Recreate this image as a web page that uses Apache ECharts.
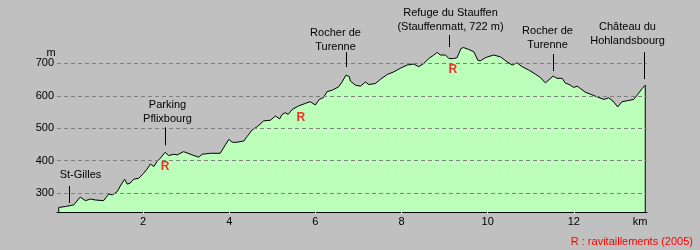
<!DOCTYPE html>
<html>
<head>
<meta charset="utf-8">
<script src="https://cdn.jsdelivr.net/npm/echarts@6/dist/echarts.min.js"></script>
<style>
html,body{margin:0;padding:0;background:#c0c0c0;}
#chart{width:700px;height:250px;}
</style>
</head>
<body>
<div id="chart"></div>
<script>
// ---- data ----
const distKm = [0.04,0.20,0.39,0.54,0.66,0.78,0.89,1.08,1.20,1.29,1.40,1.47,1.57,1.63,1.70,1.78,1.90,2.01,2.09,2.17,2.25,2.32,2.40,2.51,2.59,2.71,2.79,2.94,3.14,3.29,3.37,3.56,3.79,3.91,3.99,4.07,4.18,4.34,4.41,4.48,4.53,4.65,4.80,4.96,5.07,5.11,5.17,5.23,5.30,5.37,5.46,5.61,5.77,5.88,6.00,6.09,6.19,6.27,6.40,6.54,6.62,6.71,6.79,6.81,6.93,7.05,7.16,7.24,7.39,7.51,7.67,7.82,7.97,8.13,8.28,8.40,8.52,8.63,8.75,8.83,8.90,9.02,9.10,9.21,9.29,9.38,9.44,9.56,9.68,9.77,9.83,9.95,10.14,10.30,10.45,10.57,10.68,10.80,10.95,11.11,11.23,11.34,11.52,11.61,11.73,11.80,11.92,12.00,12.08,12.15,12.27,12.39,12.54,12.70,12.81,12.91,13.02,13.12,13.24,13.39,13.47,13.59,13.66];
const elevM  = [256,259,264,288,277,282,279,277,297,295,305,322,343,328,331,343,346,361,374,390,382,397,408,426,416,420,418,428,418,411,420,423,423,449,466,457,457,461,474,486,495,505,523,525,538,544,529,543,548,543,558,569,577,582,572,589,595,613,618,628,643,664,659,646,633,630,643,635,638,651,666,674,685,695,698,690,700,715,726,734,726,726,715,715,718,746,749,743,736,710,708,718,726,720,705,695,702,690,680,667,656,640,661,654,654,640,633,626,630,623,611,605,597,589,594,584,566,582,585,589,602,623,633];
const yTicks = [300,400,500,600,700];
const xTickInterval = 2;
const placeNames = ['St-Gilles','Parking\nPflixbourg','Rocher de\nTurenne','Refuge du Stauffen\n(Stauffenmatt, 722 m)','Rocher de\nTurenne','Château du\nHohlandsbourg'];
const placeKm   = [0.28, 2.50, 6.71, 9.10, 11.51, 13.62];
const placeElev = [262, 426, 664, 715, 661, 633];
const supplyKm   = [2.51, 5.66, 9.19];
const supplyElev = [381, 534, 682];
const yMin = 242, yMax = 800, xMin = 0, xMax = 13.7;

// ---- label layout (pixels: gap above profile, pointer length, text dx, text dy) ----
const placeStyle = [
  {gap:2.5, len:17, dx:11, dy:4},
  {gap:7,   len:18, dx:2,  dy:1},
  {gap:8,   len:15, dx:-11,dy:-2},
  {gap:11.5,len:12, dx:1,  dy:1},
  {gap:5,   len:17, dx:-6, dy:2},
  {gap:6,   len:27, dx:-17,dy:4}
];

const FONT = "'Liberation Sans', Arial, sans-serif";
const profile = [[distKm[0], yMin]].concat(distKm.map((k,i)=>[k, elevM[i]]), [[distKm[distKm.length-1], yMin]]);

const chart = echarts.init(document.getElementById('chart'), null, {renderer:'canvas'});
chart.setOption({
  backgroundColor:'#c0c0c0',
  animation:false,
  textStyle:{fontFamily:FONT},
  grid:{left:57, right:53, top:31, bottom:38},
  xAxis:{
    type:'value', min:xMin, max:xMax, interval:xTickInterval,
    axisLine:{show:true, lineStyle:{color:'#000', width:1}},
    axisTick:{show:true, length:2, lineStyle:{color:'#bbffbb'}},
    axisLabel:{color:'#000', fontSize:11, margin:4, fontFamily:FONT, showMinLabel:false, showMaxLabel:false,
      formatter:v=> v===0 ? '' : String(v)},
    splitLine:{show:false}
  },
  yAxis:{
    type:'value', min:yMin, max:yMax,
    axisLine:{show:false}, axisTick:{show:false}, splitLine:{show:false},
    axisLabel:{color:'#000', fontSize:11, margin:3, fontFamily:FONT, customValues:yTicks}
  },
  series:[
    {
      type:'line', data:profile, showSymbol:false, symbol:'none',
      lineStyle:{color:'#000', width:1},
      areaStyle:{color:'#bbffbb', opacity:1, origin:'start'},
      z:2,
      markLine:{
        silent:true, symbol:'none', label:{show:false},
        lineStyle:{color:'#808080', type:[4,3], width:1},
        data: yTicks.map(v=>({yAxis:v}))
      }
    },
    {
      type:'scatter', data:supplyKm.map((k,i)=>[k, supplyElev[i]]),
      symbolSize:0, z:5,
      label:{show:true, position:'inside', formatter:'R', color:'#ff0000', fontWeight:'bold', fontSize:12, fontFamily:FONT}
    },
    {
      type:'custom', clip:false, z:6,
      data: placeKm.map((k,i)=>[k, placeElev[i], i]),
      renderItem:(params, api)=>{
        const i = api.value(2);
        const p = api.coord([api.value(0), api.value(1)]);
        const s = placeStyle[i];
        const x = Math.round(p[0]) + 0.5;
        const yb = p[1] - s.gap, yt = yb - s.len;
        return {type:'group', children:[
          {type:'line', shape:{x1:x, y1:yb, x2:x, y2:yt}, style:{stroke:'#000', lineWidth:1}},
          {type:'text', x:x + s.dx, y:yt - s.dy,
            style:{text:placeNames[i], align:'center', verticalAlign:'bottom', lineHeight:14,
              font:'11px ' + FONT, fill:'#000'}}
        ]};
      }
    }
  ],
  graphic:[
    {type:'text', x:51, y:53, style:{text:'m', align:'center', verticalAlign:'middle', font:'11px '+FONT, fill:'#000'}},
    {type:'text', x:640, y:222, style:{text:'km', align:'center', verticalAlign:'middle', font:'11px '+FONT, fill:'#000'}},
    {type:'text', x:693, y:242, style:{text:'R : ravitaillements (2005)', align:'right', verticalAlign:'middle', font:'11px '+FONT, fill:'#ff0000'}}
  ]
});
</script>
</body>
</html>
